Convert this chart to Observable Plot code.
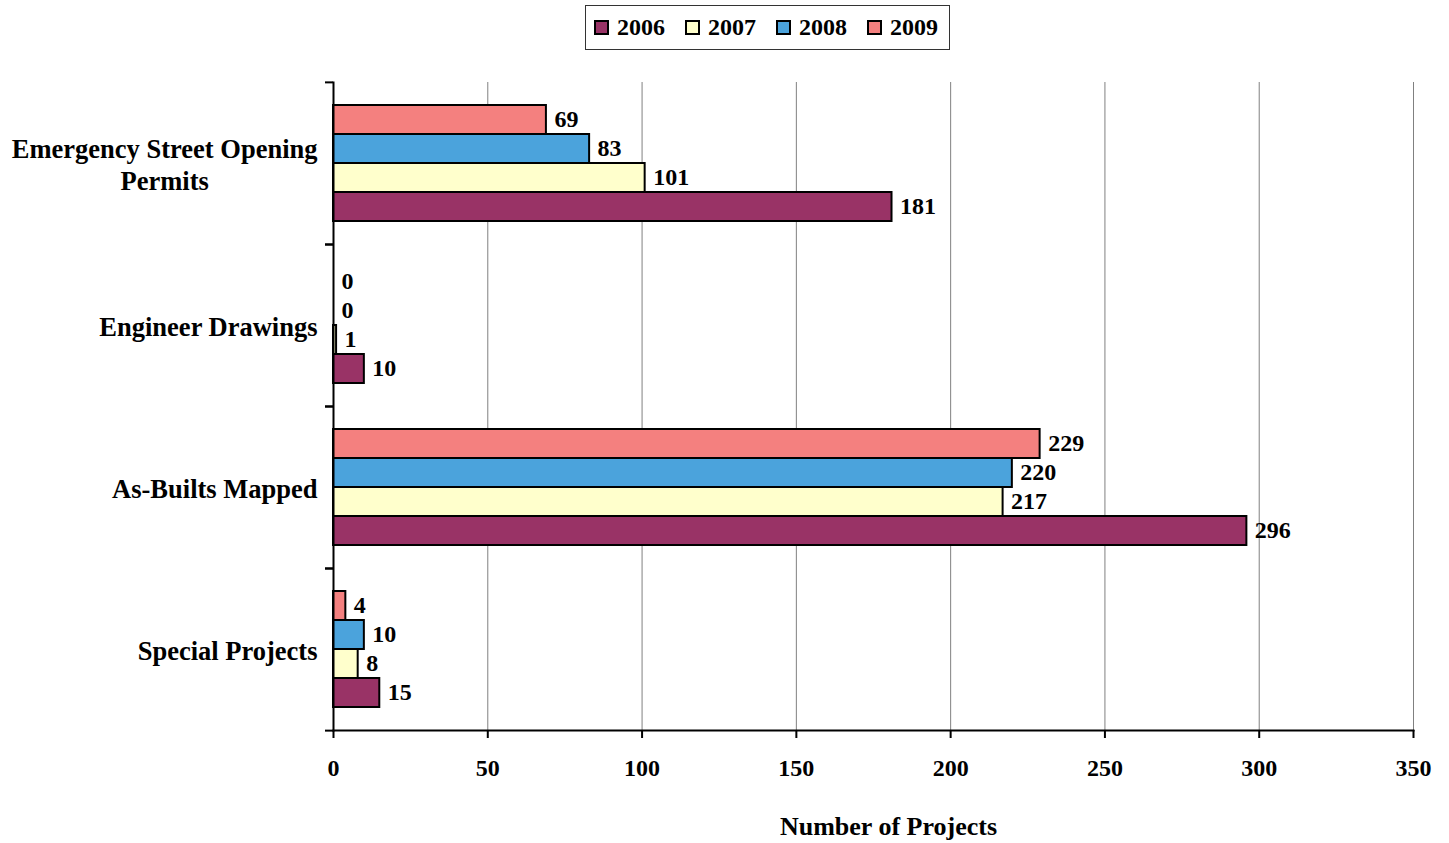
<!DOCTYPE html>
<html>
<head>
<meta charset="utf-8">
<script src="https://cdn.jsdelivr.net/npm/d3@7"></script>
<script src="https://cdn.jsdelivr.net/npm/@observablehq/plot@0.6"></script>
<style>
  body { margin: 0; background: #fff; font-family: "Liberation Serif", "Times New Roman", serif; }
  #legend { position: relative; height: 58px; }
  .lg { position: absolute; left: 585px; top: 5px; width: 355px; height: 43px; padding-left: 8px;
        border: 1px solid #333; display: flex; align-items: center; gap: 20px; }
  .it { display: flex; align-items: center; gap: 8px; font-weight: bold; font-size: 24px; color: #000; }
  .sw { width: 11px; height: 11px; border: 2px solid #000; }
</style>
</head>
<body>
<div id="legend"></div>
<div id="chart"></div>
<script>
const categories = ["Emergency Street Opening\nPermits", "Engineer Drawings", "As-Builts Mapped", "Special Projects"];
const years = ["2006", "2007", "2008", "2009"];
const values2006 = [181, 10, 296, 15];
const values2007 = [101, 1, 217, 8];
const values2008 = [83, 0, 220, 10];
const values2009 = [69, 0, 229, 4];
const colors = ["#993366", "#FFFFCC", "#4BA3DC", "#F4807F"];
const xTicks = [0, 50, 100, 150, 200, 250, 300, 350];
const xTitle = "Number of Projects";

const seriesValues = [values2006, values2007, values2008, values2009];
const rows = [];
years.forEach((yr, j) => categories.forEach((c, i) => rows.push({category: c, year: yr, value: seriesValues[j][i]})));

// legend
const lg = document.createElement("div");
lg.className = "lg";
years.forEach((yr, i) => {
  const it = document.createElement("div"); it.className = "it";
  const sw = document.createElement("span"); sw.className = "sw"; sw.style.background = colors[i];
  const tx = document.createElement("span"); tx.textContent = yr;
  it.appendChild(sw); it.appendChild(tx); lg.appendChild(it);
});
document.getElementById("legend").appendChild(lg);

const W = 1449, H = 785, MT = 23, MB = 113, ML = 333, MR = 36;
const band = (H - MT - MB) / categories.length;
const font = '"Liberation Serif", "Times New Roman", serif';

const chart = Plot.plot({
  width: W, height: H, marginTop: MT, marginBottom: MB, marginLeft: ML, marginRight: MR,
  style: {fontFamily: font, fontWeight: "bold", color: "#000", background: "#fff", overflow: "visible"},
  x: {domain: [0, 350]},
  y: {domain: ["2009", "2008", "2007", "2006"], paddingInner: 0, paddingOuter: 0.7, axis: null},
  fy: {domain: categories, padding: 0},
  color: {domain: years, range: colors},
  marks: [
    Plot.gridX(xTicks.filter(t => t > 0), {stroke: "#808080", strokeOpacity: 1, strokeWidth: 1}),
    Plot.barX(rows, {x: "value", y: "year", fy: "category", fill: "year", stroke: "#000", strokeWidth: 2}),
    Plot.text(rows, {x: "value", y: "year", fy: "category", text: d => String(d.value), textAnchor: "start", dx: 8, dy: -1, fontSize: 24, fill: "#000"}),
    Plot.frame({anchor: "left", facet: "super", stroke: "#000", strokeWidth: 2}),
    Plot.frame({anchor: "bottom", facet: "super", stroke: "#000", strokeWidth: 2}),
    Plot.axisX(xTicks, {tickSize: 8, tickPadding: 20, fontSize: 24, strokeWidth: 2, stroke: "#000", label: null}),
    Plot.text([xTitle], {frameAnchor: "bottom", facet: "super", dy: 104, dx: 15, fontSize: 26, fill: "#000"}),
    Plot.axisFy({anchor: "left", tickSize: 0, tickPadding: 16, fontSize: 26.5, label: null, lineHeight: 1.22}),
    Plot.axisFy({anchor: "left", tickSize: 8, tickFormat: () => "", dy: -band / 2, label: null, strokeWidth: 2, stroke: "#000"}),
    Plot.axisFy([categories[categories.length - 1]], {anchor: "left", tickSize: 8, tickFormat: () => "", dy: band / 2, label: null, strokeWidth: 2, stroke: "#000"})
  ]
});
document.getElementById("chart").appendChild(chart);

// center the lines of multi-line category labels within their block
chart.querySelectorAll("text").forEach(t => {
  const spans = t.querySelectorAll("tspan");
  if (spans.length > 1) {
    let w = 0;
    spans.forEach(s => { w = Math.max(w, s.getComputedTextLength()); });
    t.setAttribute("text-anchor", "middle");
    spans.forEach(s => { s.setAttribute("x", -w / 2); s.setAttribute("text-anchor", "middle"); });
  }
});
</script>
</body>
</html>
